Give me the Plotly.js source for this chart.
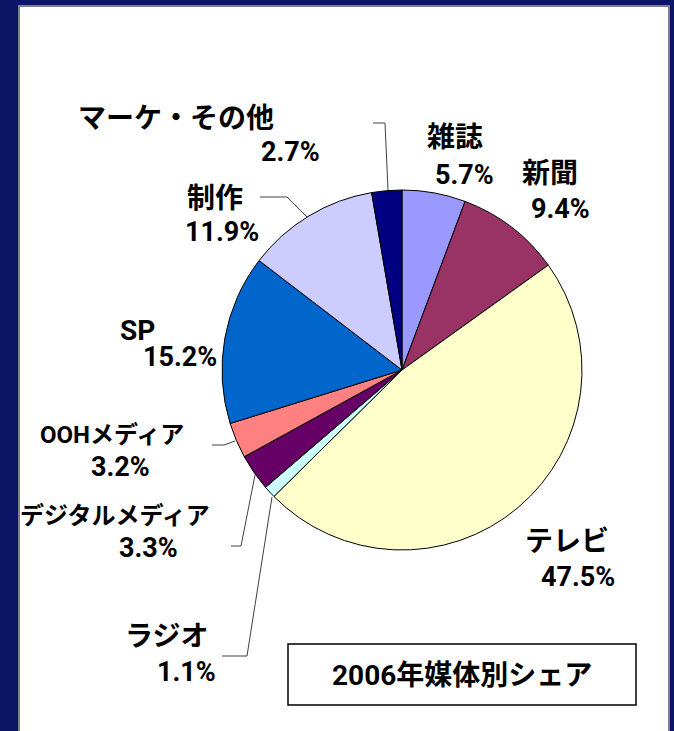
<!DOCTYPE html>
<html>
<head>
<meta charset="utf-8">
<script src="https://cdn.plot.ly/plotly-3.0.1.min.js"></script>
<style>html,body{margin:0;padding:0;background:#0B1566;}#chart{width:674px;height:731px;}</style>
</head>
<body>
<div id="chart"></div>
<script>
// ---- data ----
const categories = ["雑誌", "新聞", "テレビ", "ラジオ", "デジタルメディア", "OOHメディア", "SP", "制作", "マーケ・その他"];
const shares = [5.7, 9.4, 47.5, 1.1, 3.3, 3.2, 15.2, 11.9, 2.7];
const sliceColors = ["#9999FF", "#993366", "#FFFFCC", "#CCFFFF", "#660066", "#FF8080", "#0066CC", "#CCCCFF", "#000080"];
const chartTitle = "2006年媒体別シェア";

// ---- layout helpers (pixel -> paper) ----
const W = 674, H = 731;
const px = x => x / W;
const py = y => 1 - y / H;

// label positions (name line, value line) in pixels, and name font size
const labelPos = {
  "雑誌": [[455, 138], [464, 175], 28],
  "新聞": [[550, 173], [560, 209], 28],
  "テレビ": [[567, 541], [578, 577], 28],
  "ラジオ": [[166, 636], [187, 672], 28],
  "デジタルメディア": [[115, 516], [148, 548], 24],
  "OOHメディア": [[112, 435], [120, 467], 24],
  "SP": [[137, 330], [180, 357], 28],
  "制作": [[215, 198], [222, 232], 28],
  "マーケ・その他": [[176, 118], [290, 152], 28]
};
const leaders = [
  [[373, 123], [385, 123], [388, 190]],
  [[260, 197], [287, 197], [307, 217]],
  [[212, 445], [224, 445], [235, 441]],
  [[231, 546], [241, 546], [255, 475]],
  [[222, 656], [247, 656], [272, 497]]
];

const valFont = {family: "Roboto, Liberation Sans, sans-serif", size: 27, color: "#000", weight: "bold"};

const annotations = [];
categories.forEach((c, i) => {
  const p = labelPos[c];
  annotations.push({xref: "paper", yref: "paper", x: px(p[0][0]), y: py(p[0][1]), xanchor: "center", yanchor: "middle",
    text: "<b>" + c + "</b>", showarrow: false,
    font: {family: "Roboto, Noto Sans CJK JP, sans-serif", size: p[2], color: "#000", weight: "bold"}});
  annotations.push({xref: "paper", yref: "paper", x: px(p[1][0]), y: py(p[1][1]), xanchor: "center", yanchor: "middle",
    text: "<b>" + shares[i].toFixed(1) + "%</b>", showarrow: false, font: valFont});
});
annotations.push({xref: "paper", yref: "paper", x: px(462), y: py(675), xanchor: "center", yanchor: "middle",
  text: "<b>" + chartTitle + "</b>", showarrow: false, font: {family: "Roboto, Noto Sans CJK JP, sans-serif", size: 28, color: "#000"}});

const shapes = [
  {type: "rect", xref: "paper", yref: "paper", x0: px(19), x1: px(669), y0: -0.05, y1: py(6), layer: "below",
    fillcolor: "#FFFFFF", line: {color: "#7F7F8A", width: 2}},
  {type: "rect", xref: "paper", yref: "paper", x0: px(288), x1: px(636), y0: py(705), y1: py(644),
    fillcolor: "rgba(0,0,0,0)", line: {color: "#000", width: 1.5}}
];
leaders.forEach(l => {
  const d = "M " + l.map(p => px(p[0]) + "," + py(p[1])).join(" L ");
  shapes.push({type: "path", xref: "paper", yref: "paper", path: d, line: {color: "#404040", width: 1}});
});

const trace = {
  type: "pie",
  labels: categories,
  values: shares,
  sort: false,
  direction: "clockwise",
  rotation: 0,
  marker: {colors: sliceColors, line: {color: "#000", width: 1}},
  textinfo: "none",
  hoverinfo: "none",
  showlegend: false,
  domain: {x: [px(222), px(582)], y: [py(550), py(190)]}
};

const layout = {
  width: W, height: H,
  margin: {l: 0, r: 0, t: 0, b: 0},
  paper_bgcolor: "#0B1566",
  showlegend: false,
  annotations: annotations,
  shapes: shapes
};

Plotly.newPlot("chart", [trace], layout, {displayModeBar: false, staticPlot: true});
</script>
</body>
</html>
